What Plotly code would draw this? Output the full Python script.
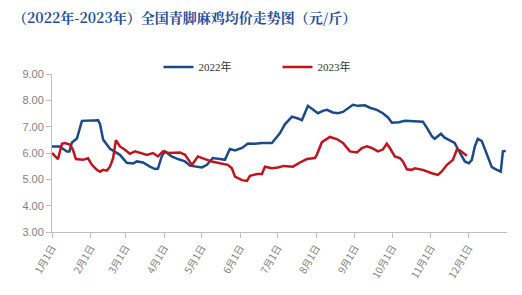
import plotly.graph_objects as go

# day-of-year (0 = 1月1日) and price (元/斤)
days_2022 = [0, 6, 12, 14, 16, 20, 24, 37, 38.5, 41, 46.5, 54.5, 60, 65, 68, 73, 78.6, 82.6, 85, 88,
             90.6, 96, 101, 106.7, 110.7, 114.7, 120.3, 124.3, 129, 134.7, 138.7, 142.7, 146.8, 152.4,
             157.2, 162.8, 168.4, 176.4, 178.8, 182.8, 186.8, 192.5, 197.3, 200.5, 205.3, 209.3, 213.3,
             217.3, 220.5, 225.3, 229.4, 233.4, 237.4, 241.4, 245.4, 251, 255, 260.6, 265.4, 269.5,
             272.7, 278.3, 283, 291, 297.5, 301.5, 304.7, 307, 309.5, 312, 315, 319, 323, 325.6, 328.8,
             331.2, 334.4, 336.8, 339.2, 341.6, 344.8, 348.8, 352.8, 356.9, 360, 361.7, 364]
price_2022 = [6.25, 6.25, 6.06, 6.06, 6.40, 6.55, 7.22, 7.24, 7.10, 6.51, 6.16, 5.93, 5.63, 5.60, 5.68,
              5.64, 5.48, 5.39, 5.41, 5.87, 6.06, 5.87, 5.77, 5.68, 5.52, 5.48, 5.45, 5.55, 5.81, 5.77,
              5.74, 6.15, 6.10, 6.19, 6.36, 6.35, 6.38, 6.38, 6.51, 6.75, 7.09, 7.38, 7.31, 7.25, 7.79,
              7.64, 7.51, 7.60, 7.64, 7.54, 7.51, 7.56, 7.68, 7.83, 7.79, 7.81, 7.72, 7.64, 7.51, 7.35,
              7.15, 7.17, 7.22, 7.20, 7.19, 6.90, 6.64, 6.54, 6.64, 6.73, 6.58, 6.49, 6.38, 6.15, 5.87,
              5.68, 5.61, 5.74, 6.25, 6.54, 6.45, 5.93, 5.46, 5.36, 5.29, 6.06, 6.08]

days_2023 = [0, 2.4, 4.8, 8, 10.4, 14.4, 16.8, 19.2, 24.9, 28.9, 32, 36, 38.5, 41, 44, 46.5, 49, 51.3,
             54.5, 58.5, 62.5, 66.6, 70.6, 76.2, 81, 85, 89, 93.8, 102.6, 106.7, 112.3, 117, 122.7,
             128.3, 134.7, 141, 144.3, 146.8, 152.4, 156.4, 158.8, 164.4, 168.4, 170.8, 176.4, 181.2,
             186, 193.3, 198.9, 204.5, 210.9, 212.5, 216.5, 222.9, 228.5, 233.4, 239, 244.6, 248.6,
             252.6, 256.6, 261.4, 265.4, 268.6, 271, 275, 279, 281.5, 284.7, 288.7, 291, 297.5, 304.7,
             309.5, 312.7, 316.8, 321.6, 324.8, 327.2, 329.6, 332.8]
price_2023 = [6.00, 5.87, 5.77, 6.35, 6.38, 6.32, 6.12, 5.77, 5.74, 5.80, 5.55, 5.36, 5.29, 5.36, 5.33,
              5.48, 5.80, 6.49, 6.25, 6.12, 5.97, 6.06, 6.00, 5.93, 6.00, 5.87, 6.06, 6.00, 6.02, 5.93,
              5.55, 5.87, 5.77, 5.68, 5.61, 5.55, 5.42, 5.10, 4.97, 4.94, 5.13, 5.20, 5.20, 5.48, 5.42,
              5.45, 5.51, 5.48, 5.64, 5.77, 5.81, 5.94, 6.41, 6.61, 6.53, 6.38, 6.06, 6.02, 6.19, 6.25,
              6.19, 6.06, 6.13, 6.35, 6.19, 5.87, 5.81, 5.68, 5.38, 5.36, 5.42, 5.36, 5.23, 5.17, 5.30,
              5.55, 5.74, 6.13, 6.10, 6.02, 5.90]

month_start_days = [0, 31, 59, 90, 120, 151, 181, 212, 243, 273, 304, 334]
month_labels = ["1月1日", "2月1日", "3月1日", "4月1日", "5月1日", "6月1日",
                "7月1日", "8月1日", "9月1日", "10月1日", "11月1日", "12月1日"]
y_ticks = [3, 4, 5, 6, 7, 8, 9]

fig = go.Figure()
fig.add_trace(go.Scatter(x=days_2022, y=price_2022, mode="lines", name="2022年",
                         line=dict(color="#1B4A8A", width=2.5)))
fig.add_trace(go.Scatter(x=days_2023, y=price_2023, mode="lines", name="2023年",
                         line=dict(color="#C0141C", width=2.5)))

fig.update_layout(
    width=522, height=295,
    margin=dict(l=52, r=15, t=74, b=63),
    paper_bgcolor="white", plot_bgcolor="white",
    title=dict(text="<b>（2022年-2023年）全国青脚麻鸡均价走势图（元/斤）</b>",
               x=0.025, xanchor="left", y=0.94, yanchor="middle",
               font=dict(family="Noto Serif CJK SC, Noto Sans CJK SC", size=14, color="#1F4E9C")),
    legend=dict(orientation="h", x=0.234, xanchor="left", y=1.045, yanchor="middle",
                font=dict(family="Liberation Serif, Noto Sans CJK SC", size=11, color="#333333"),
                itemwidth=30, entrywidth=74, entrywidthmode="pixels"),
    showlegend=True,
)
fig.update_xaxes(range=[0, 365], tickvals=month_start_days, ticktext=month_labels,
                 tickangle=-60, showgrid=False, zeroline=False,
                 showline=True, linecolor="#BFBFBF", linewidth=1,
                 ticks="outside", tickcolor="#BFBFBF", ticklen=5,
                 tickfont=dict(family="Noto Sans CJK SC", size=10, color="#7F7F7F"))
fig.update_yaxes(range=[3, 9], tickvals=y_ticks, tickformat=".2f",
                 showgrid=False, zeroline=False,
                 showline=True, linecolor="#BFBFBF", linewidth=1,
                 ticks="outside", tickcolor="#BFBFBF", ticklen=5,
                 tickfont=dict(family="Liberation Sans", size=11, color="#7F7F7F"))

fig.write_html("out.html")
